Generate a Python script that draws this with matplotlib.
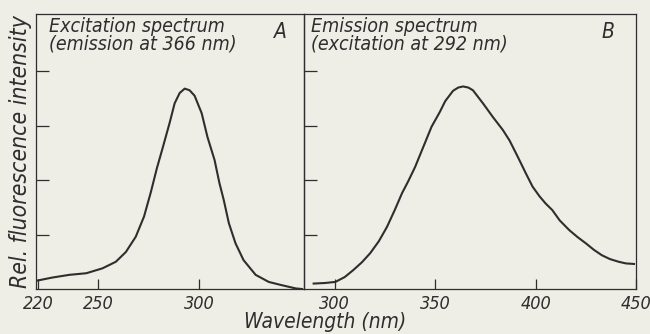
import matplotlib.pyplot as plt

# excitation spectrum (emission at 366 nm)
exc_nm = [219, 227, 235.5, 244, 252, 258.6, 263.6, 268.5, 272.6, 276, 279, 282, 285.3,
          287.8, 290.3, 292.8, 295.2, 297.7, 301.2, 304.1, 307.6, 310, 312.2, 314.7, 318,
          322, 328, 334.5, 341, 348, 351]
exc_int = [0.15, 0.21, 0.26, 0.29, 0.38, 0.50, 0.68, 0.96, 1.33, 1.78, 2.22, 2.61, 3.05,
           3.41, 3.60, 3.68, 3.65, 3.55, 3.23, 2.79, 2.37, 1.95, 1.63, 1.21, 0.84, 0.53,
           0.26, 0.13, 0.07, 0.01, 0.0]

# emission spectrum (excitation at 292 nm)
em_nm = [289.5, 295, 300.3, 305, 309.3, 313.5, 317.7, 322, 326, 330, 333.5, 336.6, 340,
         344.1, 348.2, 352.3, 355, 358.9, 361.5, 363.9, 366.5, 368.8, 373.8, 378.7, 383.7,
         387, 391.1, 395.2, 398.5, 402, 405, 408.3, 412, 416.8, 421, 425, 429, 433, 437,
         441.4, 445, 449]
em_int = [0.10, 0.11, 0.13, 0.22, 0.35, 0.49, 0.66, 0.88, 1.14, 1.46, 1.76, 1.98, 2.24,
          2.61, 2.98, 3.25, 3.45, 3.64, 3.70, 3.72, 3.70, 3.65, 3.41, 3.16, 2.92, 2.73,
          2.43, 2.12, 1.88, 1.70, 1.57, 1.45, 1.26, 1.08, 0.95, 0.84, 0.72, 0.62, 0.55,
          0.50, 0.47, 0.46]

bg = "#eeede6"
ink = "#2e2e2e"
font = dict(family="DejaVu Sans", style="italic", stretch="condensed", color=ink)

fig = plt.figure(figsize=(6.5, 3.34), dpi=100, facecolor=bg)
axA = fig.add_axes([0.0554, 0.1347, 0.4123, 0.8233])
axB = fig.add_axes([0.4677, 0.1347, 0.5108, 0.8233])

for ax in (axA, axB):
    ax.set_facecolor("none")
    ax.set_ylim(0, 5.05)
    ax.set_yticks([1, 2, 3, 4])
    ax.set_yticklabels([])
    ax.tick_params(axis="y", direction="in", length=9, width=0.9, color=ink)
    ax.tick_params(axis="x", direction="in", length=7, width=0.9, color=ink, pad=4)
    for s in ax.spines.values():
        s.set_linewidth(0.9)
        s.set_color(ink)

axA.plot(exc_nm, exc_int, color=ink, lw=1.5)
axA.set_xlim(219, 352)
axA.set_xticks([220, 250, 300])
axA.text(0.05, 0.99, "Excitation spectrum\n(emission at 366 nm)", transform=axA.transAxes,
         ha="left", va="top", fontsize=14, linespacing=0.9, **font)
axA.text(0.935, 0.97, "A", transform=axA.transAxes, ha="right", va="top",
         fontsize=15, **font)

axB.plot(em_nm, em_int, color=ink, lw=1.5)
axB.set_xlim(284.7, 449.5)
axB.set_xticks([300, 350, 400, 450])
axB.text(0.02, 0.99, "Emission spectrum\n(excitation at 292 nm)", transform=axB.transAxes,
         ha="left", va="top", fontsize=14, linespacing=0.9, **font)
axB.text(0.935, 0.97, "B", transform=axB.transAxes, ha="right", va="top",
         fontsize=15, **font)

for ax in (axA, axB):
    for lab in ax.get_xticklabels():
        lab.set_fontsize(13)
        lab.set_fontstyle("italic")
        lab.set_fontstretch("condensed")
        lab.set_color(ink)

fig.text(0.5, 0.035, "Wavelength (nm)", ha="center", va="center", fontsize=15, **font)
fig.text(0.032, 0.545, "Rel. fluorescence intensity", rotation=90, ha="center", va="center",
         fontsize=16.5, **font)

fig.savefig("out.png", dpi=100, facecolor=bg)
